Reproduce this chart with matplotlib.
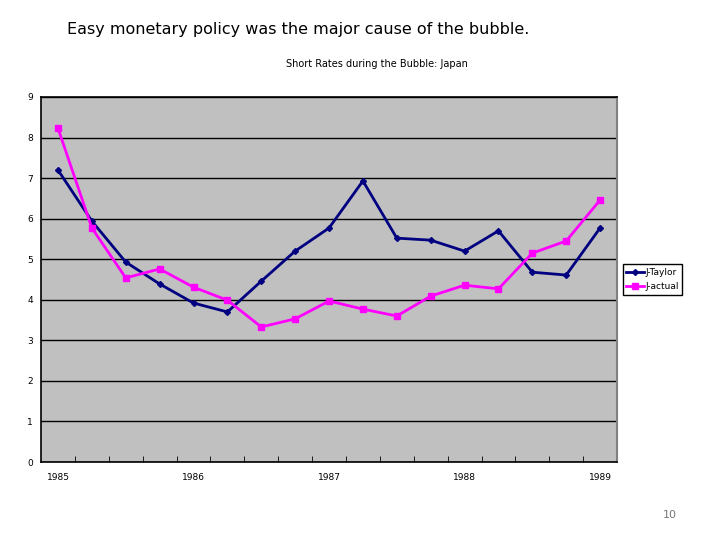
import matplotlib.pyplot as plt
import numpy as np

# quarterly short rates, 1985Q1 - 1989Q1
quarters = ['1985', '', '', '', '1986', '', '', '', '1987', '', '', '',
            '1988', '', '', '', '1989']
j_taylor = [7.2, 5.94, 4.93, 4.39, 3.92, 3.70, 4.46, 5.20, 5.77,
            6.93, 5.52, 5.47, 5.20, 5.70, 4.68, 4.61, 5.77]
j_actual = [8.23, 5.77, 4.54, 4.76, 4.31, 3.99, 3.33, 3.53, 3.97,
            3.77, 3.60, 4.09, 4.36, 4.27, 5.15, 5.45, 6.46]

fig = plt.figure(figsize=(7.2, 5.4), dpi=100)
fig.text(0.093, 0.945, 'Easy monetary policy was the major cause of the bubble.',
         fontsize=11.5, ha='left', va='center')
fig.text(0.524, 0.882, 'Short Rates during the Bubble: Japan',
         fontsize=7, ha='center', va='center')
fig.text(0.93, 0.047, '10', fontsize=8, color='#777777', ha='center', va='center')

ax = fig.add_axes([0.057, 0.1444, 0.8, 0.676])
ax.set_facecolor('#c0c0c0')
x = np.arange(len(quarters))
ax.plot(x, j_taylor, color='#000080', marker='D', markersize=3, linewidth=2,
        label='J-Taylor', zorder=3)
ax.plot(x, j_actual, color='#ff00ff', marker='s', markersize=4.5, linewidth=2,
        label='J-actual', zorder=3)

ax.set_xlim(-0.5, len(quarters) - 0.5)
ax.set_ylim(0, 9)
ax.set_yticks(range(10))
ax.yaxis.grid(True, color='black', linewidth=1)
ax.set_axisbelow(True)
ax.tick_params(axis='y', length=0, labelsize=6.5, pad=6)

ax.set_xticks(x)
ax.set_xticklabels(quarters, fontsize=6.5)
ax.tick_params(axis='x', which='major', length=0, pad=8)
ax.set_xticks(np.arange(0.5, len(quarters) - 1, 1), minor=True)
ax.tick_params(axis='x', which='minor', direction='in', length=4, color='black')

for s in ['left', 'bottom', 'top']:
    ax.spines[s].set_color('black')
    ax.spines[s].set_linewidth(1.2)
ax.spines['right'].set_color('#808080')
ax.spines['right'].set_linewidth(1.5)

ax.legend(loc='center left', bbox_to_anchor=(1.01, 0.5), fontsize=6.5,
          frameon=True, fancybox=False, edgecolor='black', framealpha=1,
          handlelength=2.0, handletextpad=0.1, borderpad=0.4,
          labelspacing=0.6, borderaxespad=0)

fig.savefig('out.png', dpi=100)
